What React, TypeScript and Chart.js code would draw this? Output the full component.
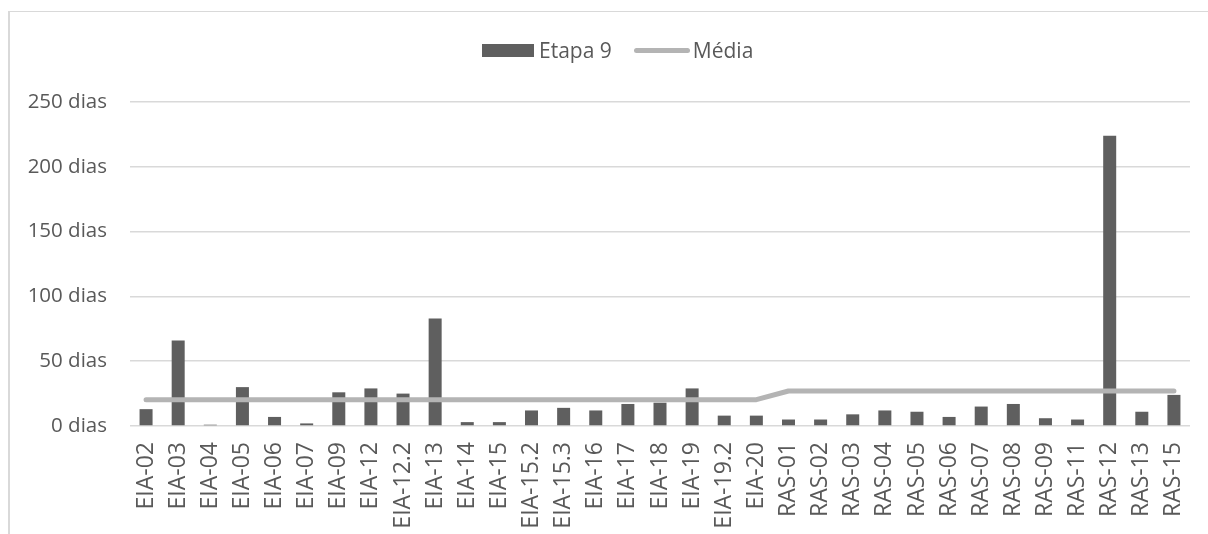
import React, { useEffect, useRef } from "react";
import { Chart, registerables } from "chart.js";

Chart.register(...registerables);

// Categories along the x axis
const categories = [
  "EIA-02", "EIA-03", "EIA-04", "EIA-05", "EIA-06", "EIA-07", "EIA-09", "EIA-12",
  "EIA-12.2", "EIA-13", "EIA-14", "EIA-15", "EIA-15.2", "EIA-15.3", "EIA-16", "EIA-17",
  "EIA-18", "EIA-19", "EIA-19.2", "EIA-20",
  "RAS-01", "RAS-02", "RAS-03", "RAS-04", "RAS-05", "RAS-06", "RAS-07", "RAS-08",
  "RAS-09", "RAS-11", "RAS-12", "RAS-13", "RAS-15",
];

// Duration of stage 9, in days
const etapa9 = [
  13, 66, 1, 30, 7, 2, 26, 29, 25, 83, 3, 3, 12, 14, 12, 17, 18, 29, 8, 8,
  5, 5, 9, 12, 11, 7, 15, 17, 6, 5, 224, 11, 24,
];

// Group average (EIA group, then RAS group)
const media = [
  20.3, 20.3, 20.3, 20.3, 20.3, 20.3, 20.3, 20.3, 20.3, 20.3,
  20.3, 20.3, 20.3, 20.3, 20.3, 20.3, 20.3, 20.3, 20.3, 20.3,
  27.0, 27.0, 27.0, 27.0, 27.0, 27.0, 27.0, 27.0, 27.0, 27.0, 27.0, 27.0, 27.0,
];

const seriesNames = ["Etapa 9", "Média"];
const yMin = 0;
const yMax = 250;
const yStep = 50;
const yUnit = "dias";

const BAR_COLOR = "#5f5f5f";
const LINE_COLOR = "#b4b4b4";
const TEXT_COLOR = "#595959";
const GRID_COLOR = "#d9d9d9";
const FONT = "'Open Sans', 'Noto Sans', sans-serif";

export default function App() {
  const canvasRef = useRef<HTMLCanvasElement | null>(null);

  useEffect(() => {
    const canvas = canvasRef.current;
    if (!canvas) return;
    const chart = new Chart(canvas, {
      type: "bar",
      data: {
        labels: categories,
        datasets: [
          {
            type: "line",
            label: seriesNames[1],
            data: media,
            borderColor: LINE_COLOR,
            backgroundColor: LINE_COLOR,
            borderWidth: 5,
            borderCapStyle: "round",
            borderJoinStyle: "round",
            pointRadius: 0,
            tension: 0,
            order: 0,
          },
          {
            type: "bar",
            label: seriesNames[0],
            data: etapa9,
            backgroundColor: BAR_COLOR,
            borderWidth: 0,
            barPercentage: 0.405,
            categoryPercentage: 1,
            order: 1,
          },
        ],
      },
      options: {
        animation: false,
        responsive: true,
        maintainAspectRatio: false,
        events: [],
        layout: { padding: { left: 0, top: 102, right: 18, bottom: 0 } },
        plugins: {
          legend: { display: false },
          tooltip: { enabled: false },
        },
        scales: {
          x: {
            grid: { display: false, drawTicks: false },
            border: { display: false },
            ticks: {
              autoSkip: false,
              minRotation: 90,
              maxRotation: 90,
              padding: 16,
              color: TEXT_COLOR,
              font: { family: FONT, size: 23 },
            },
            afterFit: (scale: any) => {
              scale.height = 108;
              scale.paddingLeft = 0;
              scale.paddingRight = 0;
            },
          },
          y: {
            min: yMin,
            max: yMax,
            grid: { color: GRID_COLOR, lineWidth: 1.5, drawTicks: false },
            border: { display: false },
            ticks: {
              stepSize: yStep,
              padding: 23,
              color: TEXT_COLOR,
              font: { family: FONT, size: 20.5 },
              callback: (v: any) => `${v} ${yUnit}`,
            },
            afterFit: (scale: any) => {
              scale.width = 130;
              scale.paddingTop = 0;
              scale.paddingBottom = 0;
            },
          },
        },
      },
    });
    return () => chart.destroy();
  }, []);

  const textStyle: React.CSSProperties = {
    fontFamily: FONT,
    fontSize: 21,
    color: TEXT_COLOR,
    lineHeight: "24px",
    whiteSpace: "nowrap",
  };

  return (
    <div
      style={{
        position: "fixed",
        left: 0,
        top: 0,
        width: 1208,
        height: 534,
        overflow: "hidden",
        background: "#ffffff",
      }}
    >
      <div
        style={{
          position: "absolute",
          left: 8,
          top: 11,
          width: 1400,
          height: 800,
          borderLeft: `2px solid ${GRID_COLOR}`,
          borderTop: `1px solid ${GRID_COLOR}`,
        }}
      />
      <div style={{ position: "absolute", left: 0, top: 0, width: 1208, height: 534 }}>
        <canvas ref={canvasRef} />
      </div>
      <div
        style={{
          position: "absolute",
          left: 482,
          top: 38,
          display: "flex",
          alignItems: "center",
          height: 24,
        }}
      >
        <div style={{ width: 52, height: 13, background: BAR_COLOR, marginRight: 5 }} />
        <span style={{ ...textStyle, marginRight: 22 }}>{seriesNames[0]}</span>
        <div
          style={{ width: 56, height: 5, borderRadius: 3, background: LINE_COLOR, marginRight: 3 }}
        />
        <span style={textStyle}>{seriesNames[1]}</span>
      </div>
    </div>
  );
}
